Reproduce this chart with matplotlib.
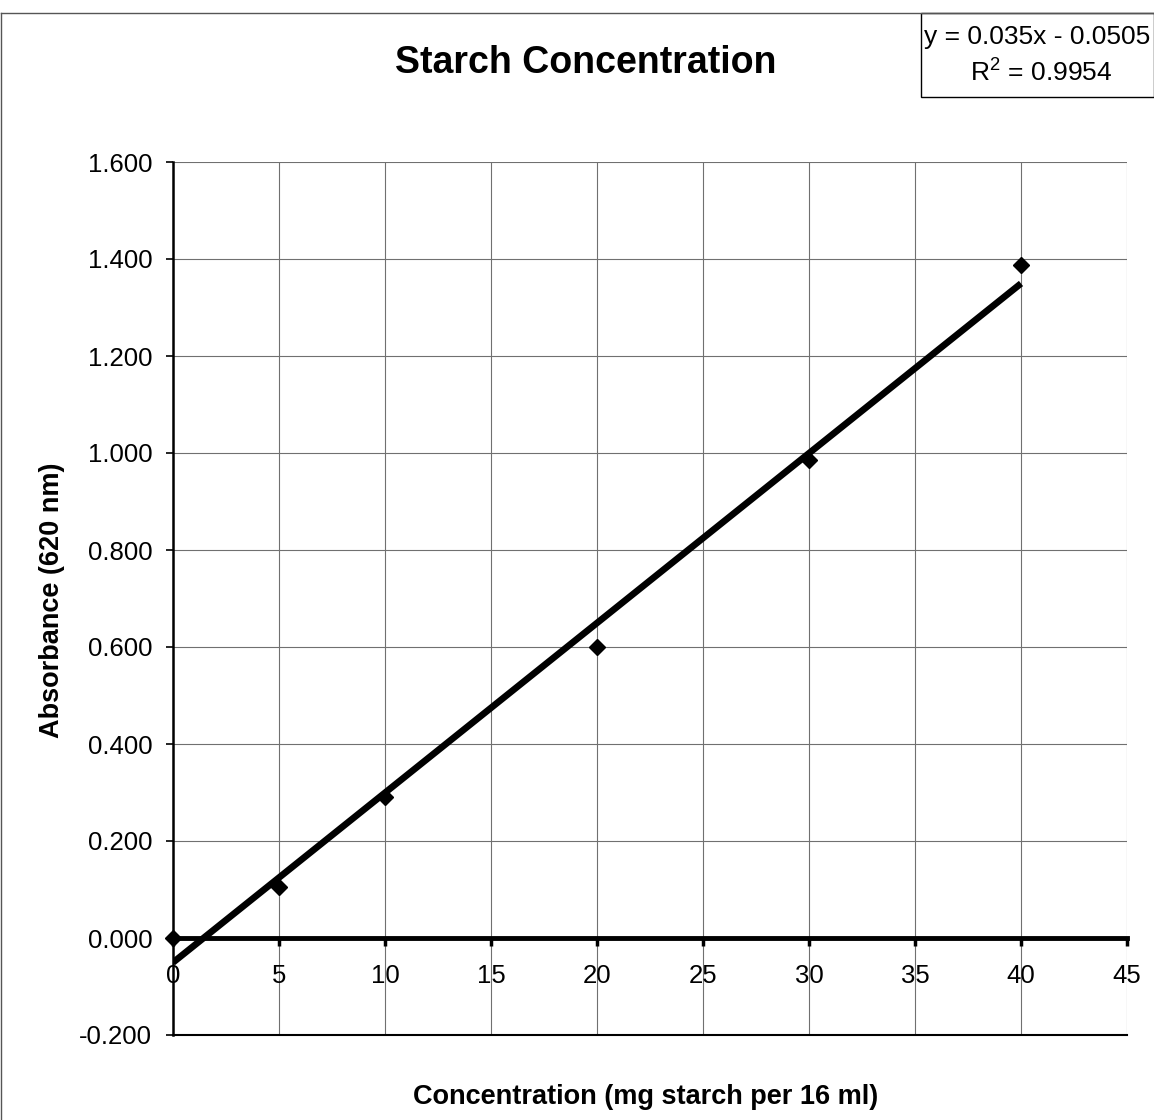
import matplotlib
matplotlib.use("Agg")
import matplotlib.pyplot as plt
from matplotlib.lines import Line2D
from matplotlib.patches import Rectangle

plt.rcParams["font.family"] = ["Liberation Sans", "DejaVu Sans"]
plt.rcParams["mathtext.fontset"] = "custom"
plt.rcParams["mathtext.rm"] = "Liberation Sans"

# data
conc = [0, 5, 10, 20, 30, 40]
absorb = [0.000, 0.105, 0.290, 0.600, 0.985, 1.387]
slope = 0.035
intercept = -0.0505
r2 = 0.9954
fit_x = [0, 40]
x_ticks = [0, 5, 10, 15, 20, 25, 30, 35, 40, 45]
y_ticks = [-0.2, 0.0, 0.2, 0.4, 0.6, 0.8, 1.0, 1.2, 1.4, 1.6]

W, H = 1154, 1120
fig = plt.figure(figsize=(W / 100, H / 100), dpi=100)
ax = fig.add_axes([173 / W, 1 - 1035 / H, (1127 - 173) / W, (1035 - 162) / H])

ax.set_xlim(0, 45)
ax.set_ylim(-0.2, 1.6)
ax.set_xticks(x_ticks)
ax.set_yticks(y_ticks)
ax.set_yticklabels([f"{v:.3f}" for v in y_ticks])
ax.grid(True, color="#707070", linewidth=0.8)
ax.set_axisbelow(True)

fit_y = [slope * x + intercept for x in fit_x]
ax.plot(fit_x, fit_y, color="black", linewidth=4.8, solid_capstyle="butt", zorder=3)
ax.plot(conc, absorb, linestyle="none", marker="D", markersize=8.5,
        color="black", zorder=4, clip_on=False)

# x axis runs through zero
ax.spines["bottom"].set_position(("data", 0))
ax.spines["bottom"].set_linewidth(3.5)
ax.spines["bottom"].set_zorder(2)
ax.spines["left"].set_linewidth(1.8)
ax.spines["top"].set_visible(False)
ax.spines["right"].set_visible(False)
ax.axhline(-0.2, color="black", linewidth=1.5, clip_on=False)

ax.tick_params(axis="x", direction="out", length=6, width=2.5, pad=13, labelsize=18.5)
ax.tick_params(axis="y", direction="out", length=5, width=1.2, pad=10, labelsize=18.5)

fig.text(586 / W, 1 - 63 / H, "Starch Concentration", ha="center", va="center",
         fontsize=27, fontweight="bold")
fig.text(52 / W, 1 - 600 / H, "Absorbance (620 nm)", ha="center", va="center",
         rotation=90, fontsize=19.5, fontweight="bold")
fig.text(646 / W, 1 - 1097 / H, "Concentration (mg starch per 16 ml)", ha="center",
         va="center", fontsize=19.5, fontweight="bold")

# outer chart border (top and left visible)
fig.add_artist(Line2D([1 / W, 1], [1 - 13 / H, 1 - 13 / H], color="#555555", linewidth=1))
fig.add_artist(Line2D([1 / W, 1 / W], [0, 1 - 13 / H], color="#555555", linewidth=1))

# equation box
fig.add_artist(Rectangle((921 / W, 1 - 97 / H), (W - 921) / W, (97 - 13) / H,
                         transform=fig.transFigure, facecolor="white",
                         edgecolor="black", linewidth=1))
fig.text(924 / W, 1 - 37 / H, f"y = {slope}x - {abs(intercept)}", ha="left",
         va="center", fontsize=19)
fig.text(1041 / W, 1 - 72 / H, f"R$^2$ = {r2}", ha="center", va="center", fontsize=19)

fig.savefig("out.png", dpi=100)
